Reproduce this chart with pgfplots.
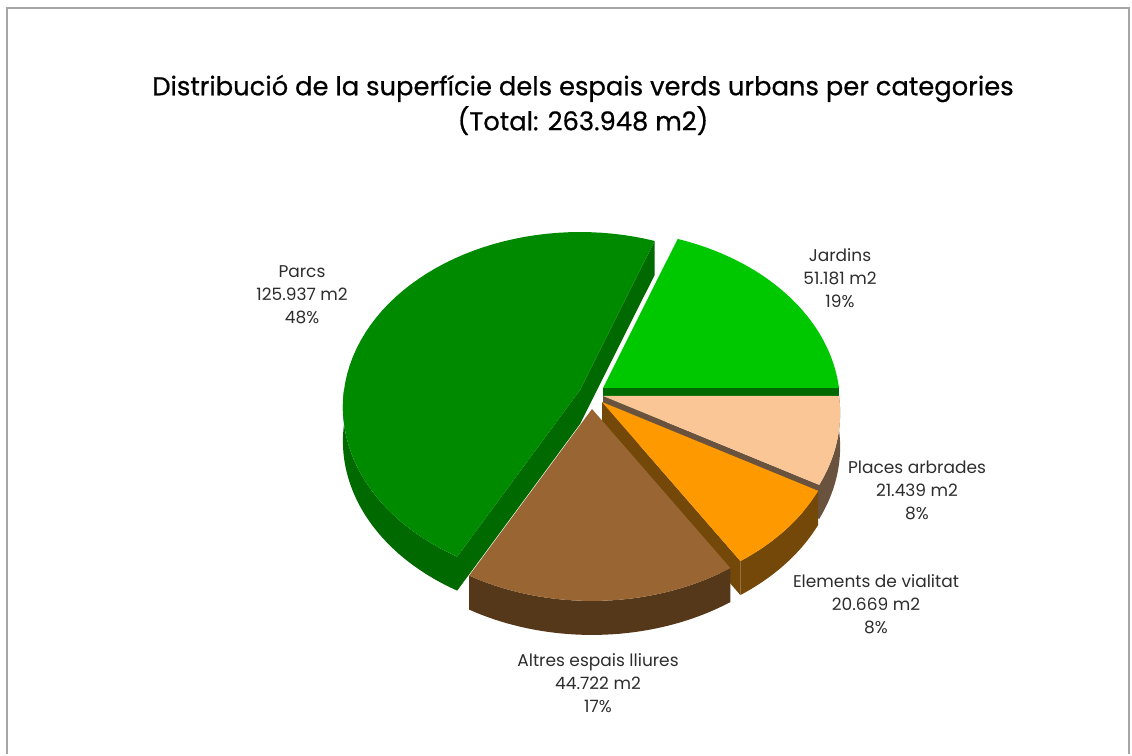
\documentclass[border=0pt]{standalone}
\usepackage{pgfplots}
\pgfplotsset{compat=1.18}
\usepackage{pgfplotstable}
\usepackage{fontspec}
\setmainfont{Poppins}

% slices in counter-clockwise order starting at 0 degrees; ax, ay = apex of the (exploded) slice, pixel coords
\pgfplotstableread{
name value ax ay
Jardins 51181 603 388
Parcs 125937 580 390
Altres 44722 592 409
Elements 20669 602 402
Places 21439 603 396
}\piedata

\definecolor{top0}{RGB}{0,200,0}     \definecolor{side0}{RGB}{0,105,0}
\definecolor{top1}{RGB}{0,138,0}     \definecolor{side1}{RGB}{0,105,0}
\definecolor{top2}{RGB}{153,102,51}  \definecolor{side2}{RGB}{85,55,25}
\definecolor{top3}{RGB}{255,153,0}   \definecolor{side3}{RGB}{115,72,8}
\definecolor{top4}{RGB}{250,198,150} \definecolor{side4}{RGB}{105,82,62}
\definecolor{labelgray}{RGB}{45,45,45}

\begin{document}
\begin{tikzpicture}
\begin{axis}[hide axis, scale only axis, width=566pt, height=377pt,
  xmin=0, xmax=1132, ymin=0, ymax=754, enlargelimits=false, clip=false]
\addplot[draw=none] coordinates {(0,0) (1132,754)};
\pgfplotsextra{
  \path (axis cs:0,0) rectangle (axis cs:1132,754);
  \gdef\pietotal{0}
  \pgfplotstableforeachcolumnelement{value}\of\piedata\as\v{\xdef\pietotal{\fpeval{\pietotal+\v}}}
  \gdef\cum{0}
  \foreach \i in {0,...,4}{
    \pgfplotstablegetelem{\i}{value}\of\piedata \let\v\pgfplotsretval
    \expandafter\xdef\csname pieA\i\endcsname{\cum}
    \xdef\cum{\fpeval{\cum+360*\v/\pietotal}}
    \expandafter\xdef\csname pieB\i\endcsname{\cum}
  }
  \begin{scope}[shift={(axis cs:0,754)}, x=0.5pt, y=-0.5pt,
    declare function={rimx(\t)=236*cos(\t)*10.3/(10.3+sin(\t));
                      rimy(\t)=-173.3*sin(\t)*10.3/(10.3+sin(\t));}]
    \def\h{34}
    % frame
    \draw[gray!70, line width=1pt] (7,754) -- (7,8) -- (1129,8) -- (1129,754);
    \foreach \i in {1,0,4,3,2}{
      \pgfplotstablegetelem{\i}{ax}\of\piedata \let\ax\pgfplotsretval
      \pgfplotstablegetelem{\i}{ay}\of\piedata \let\ay\pgfplotsretval
      \edef\aa{\csname pieA\i\endcsname}
      \edef\ab{\csname pieB\i\endcsname}
      % radial face at start angle
      \pgfmathparse{cos(\aa)>0.001 ? 1 : 0}
      \ifnum\pgfmathresult=1
        \fill[side\i] (\ax,\ay) -- ({\ax+rimx(\aa)},{\ay+rimy(\aa)}) -- ({\ax+rimx(\aa)},{\ay+rimy(\aa)+\h}) -- (\ax,\ay+\h) -- cycle;
      \fi
      % radial face at end angle
      \pgfmathparse{cos(\ab)<-0.001 ? 1 : 0}
      \ifnum\pgfmathresult=1
        \fill[side\i] (\ax,\ay) -- ({\ax+rimx(\ab)},{\ay+rimy(\ab)}) -- ({\ax+rimx(\ab)},{\ay+rimy(\ab)+\h}) -- (\ax,\ay+\h) -- cycle;
      \fi
      % curved outer face (front half)
      \pgfmathsetmacro\ba{max(\aa,180)}
      \pgfmathsetmacro\bb{min(\ab,360)}
      \pgfmathparse{\bb>\ba ? 1 : 0}
      \ifnum\pgfmathresult=1
        \fill[side\i] plot[domain=\ba:\bb, samples=40, variable=\t] ({\ax+rimx(\t)},{\ay+rimy(\t)})
          -- plot[domain=\bb:\ba, samples=40, variable=\t] ({\ax+rimx(\t)},{\ay+rimy(\t)+\h}) -- cycle;
      \fi
      % top face
      \fill[top\i] (\ax,\ay) -- plot[domain=\aa:\ab, samples=60, variable=\t] ({\ax+rimx(\t)},{\ay+rimy(\t)}) -- cycle;
    }
    % title
    \node[align=center, font=\fontsize{12.9}{17.5}\selectfont\addfontfeatures{FakeBold=0.6}, text=black] at (583,105)
      {Distribució de la superfície dels espais verds urbans per categories\\(Total: 263.948 m2)};
    % labels
    \begin{scope}[every node/.style={align=center, text=labelgray, font=\fontsize{8.5}{11.5}\selectfont}]
      \node at (302,295) {Parcs\\125.937 m2\\48\%};
      \node at (840,278) {Jardins\\51.181 m2\\19\%};
      \node at (917,490) {Places arbrades\\21.439 m2\\8\%};
      \node at (876,604) {Elements de vialitat\\20.669 m2\\8\%};
      \node at (598,683) {Altres espais lliures\\44.722 m2\\17\%};
    \end{scope}
  \end{scope}
}
\end{axis}
\end{tikzpicture}
\end{document}
